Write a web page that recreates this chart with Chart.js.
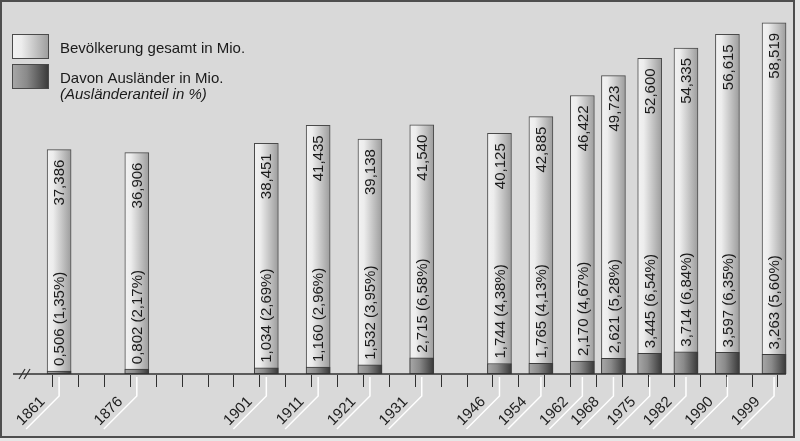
<!DOCTYPE html>
<html>
<head>
<meta charset="utf-8">
<script src="https://cdn.jsdelivr.net/npm/chart.js@4/dist/chart.umd.min.js"></script>
<style>
  html, body { margin: 0; padding: 0; background: #e4e4e4; }
  canvas { display: block; }
</style>
</head>
<body>
<canvas id="bevChart" width="800" height="441"></canvas>
<script>
// Daten
const years = [1861, 1876, 1901, 1911, 1921, 1931, 1946, 1954, 1962, 1968, 1975, 1982, 1990, 1999];
const totalPop = [37.386, 36.906, 38.451, 41.435, 39.138, 41.540, 40.125, 42.885, 46.422, 49.723, 52.600, 54.335, 56.615, 58.519];
const foreignPop = [0.506, 0.802, 1.034, 1.160, 1.532, 2.715, 1.744, 1.765, 2.170, 2.621, 3.445, 3.714, 3.597, 3.263];
const foreignShare = [1.35, 2.17, 2.69, 2.96, 3.95, 6.58, 4.38, 4.13, 4.67, 5.28, 6.54, 6.84, 6.35, 5.60];
const legendLabels = ['Bevölkerung gesamt in Mio.', 'Davon Ausländer in Mio.', '(Ausländeranteil in %)'];

// Achsenstriche alle 5 Jahre
const tickYears = [];
for (let k = 0; k <= 28; k++) tickYears.push(1859.65 + 5 * k);

const FONT = '"Liberation Sans", Arial, sans-serif';

function de(v, d) {
  return v.toFixed(d).replace('.', ',');
}

// Verlauf quer über den Balken
function barFill(stops) {
  return function (ctx) {
    const chart = ctx.chart;
    const xs = chart.scales && chart.scales.x;
    const fallback = stops[1][1];
    if (!xs || ctx.type !== 'data') return fallback;
    const x = xs.getPixelForValue(years[ctx.dataIndex]);
    if (!isFinite(x)) return fallback;
    const g = chart.ctx.createLinearGradient(x - 12, 0, x + 12, 0);
    stops.forEach(s => g.addColorStop(s[0], s[1]));
    return g;
  };
}

const lightStops = [[0, '#f2f2f2'], [0.25, '#ededed'], [1, '#9c9c9c']];
const darkStops = [[0, '#a8a8a8'], [0.4, '#8a8a8a'], [1, '#383838']];

// Rahmen, Achse, Beschriftungen, Legende
const decoPlugin = {
  id: 'deco',
  beforeDraw(chart) {
    const c = chart.ctx;
    c.save();
    c.fillStyle = '#e6e6e6';
    c.fillRect(0, 0, chart.width, chart.height);
    c.fillStyle = '#d9d9d9';
    c.fillRect(0, 0, 794, 437);
    c.strokeStyle = '#4e4e4e';
    c.lineWidth = 2;
    c.strokeRect(1, 1, 793, 436);
    c.restore();
  },
  afterDatasetsDraw(chart) {
    const c = chart.ctx;
    const xs = chart.scales.x;
    const base = chart.chartArea.bottom;
    c.save();

    // Achse
    c.strokeStyle = '#303030';
    c.lineWidth = 1.5;
    c.beginPath();
    c.moveTo(13, base);
    c.lineTo(xs.getPixelForValue(2001.3), base);
    c.stroke();
    // Achsenbruch
    c.lineWidth = 1.2;
    c.beginPath();
    c.moveTo(19, 379); c.lineTo(25, 369);
    c.moveTo(24, 379); c.lineTo(30, 369);
    c.stroke();
    // Striche
    c.lineWidth = 1;
    tickYears.forEach(t => {
      const x = Math.round(xs.getPixelForValue(t)) + 0.5;
      c.beginPath();
      c.moveTo(x, base + 1);
      c.lineTo(x, base + 13);
      c.stroke();
    });

    // Jahreszahlen mit Führungslinien
    c.font = '15px ' + FONT;
    c.fillStyle = '#1e1e1e';
    years.forEach(y => {
      const x = xs.getPixelForValue(y);
      c.strokeStyle = '#ffffff';
      c.lineWidth = 1.5;
      c.beginPath();
      c.moveTo(x, base + 3);
      c.lineTo(x, base + 22);
      c.lineTo(x - 33, base + 55);
      c.stroke();
      c.save();
      c.translate(x, base + 22);
      c.rotate(-Math.PI / 4);
      c.textAlign = 'right';
      c.textBaseline = 'alphabetic';
      c.fillText(String(y), -14, -5);
      c.restore();
    });

    // Werte in den Balken
    const totMeta = chart.getDatasetMeta(1);
    const forMeta = chart.getDatasetMeta(0);
    c.fillStyle = '#1a1a1a';
    c.font = '15px ' + FONT;
    totalPop.forEach((v, i) => {
      const bar = totMeta.data[i];
      c.save();
      c.translate(bar.x + 1, bar.y + 10);
      c.rotate(-Math.PI / 2);
      c.textAlign = 'right';
      c.textBaseline = 'middle';
      c.fillText(de(v, 3), 0, 0);
      c.restore();

      const fb = forMeta.data[i];
      c.save();
      c.translate(fb.x + 1, fb.y - 5);
      c.rotate(-Math.PI / 2);
      c.textAlign = 'left';
      c.textBaseline = 'middle';
      c.fillText(de(foreignPop[i], 3) + ' (' + de(foreignShare[i], 2) + '%)', 0, 0);
      c.restore();
    });

    // Legende
    const sw = [[34, lightStops], [64, darkStops]];
    sw.forEach(s => {
      const g = c.createLinearGradient(12, 0, 49, 0);
      s[1].forEach(st => g.addColorStop(st[0], st[1]));
      c.fillStyle = g;
      c.fillRect(12, s[0], 37, 25);
      c.strokeStyle = '#4a4a4a';
      c.lineWidth = 1;
      c.strokeRect(12.5, s[0] + 0.5, 36, 24);
    });
    c.fillStyle = '#1a1a1a';
    c.textAlign = 'left';
    c.textBaseline = 'alphabetic';
    c.font = '15px ' + FONT;
    c.fillText(legendLabels[0], 60, 53);
    c.fillText(legendLabels[1], 60, 83);
    c.font = 'italic 15px ' + FONT;
    c.fillText(legendLabels[2], 60, 99);

    c.restore();
  }
};

const ctxBev = document.getElementById('bevChart').getContext('2d');

new Chart(ctxBev, {
  type: 'bar',
  data: {
    datasets: [
      {
        label: 'Davon Ausländer in Mio.',
        data: years.map((y, i) => ({ x: y, y: foreignPop[i] })),
        backgroundColor: barFill(darkStops),
        borderColor: '#3c3c3c',
        borderWidth: 1,
        borderSkipped: false,
        order: 1
      },
      {
        label: 'Bevölkerung gesamt in Mio.',
        data: years.map((y, i) => ({ x: y, y: totalPop[i] })),
        backgroundColor: barFill(lightStops),
        borderColor: '#4a4a4a',
        borderWidth: 1,
        borderSkipped: false,
        order: 2
      }
    ]
  },
  options: {
    responsive: false,
    animation: false,
    events: [],
    grouped: false,
    barThickness: 24,
    layout: { padding: { left: 13, right: 13, top: 14, bottom: 67 } },
    scales: {
      x: { type: 'linear', min: 1852.1, max: 2001.5, offset: false, display: false },
      y: { min: 0, max: 60, display: false }
    },
    plugins: {
      legend: { display: false },
      tooltip: { enabled: false }
    }
  },
  plugins: [decoPlugin]
});
</script>
</body>
</html>
